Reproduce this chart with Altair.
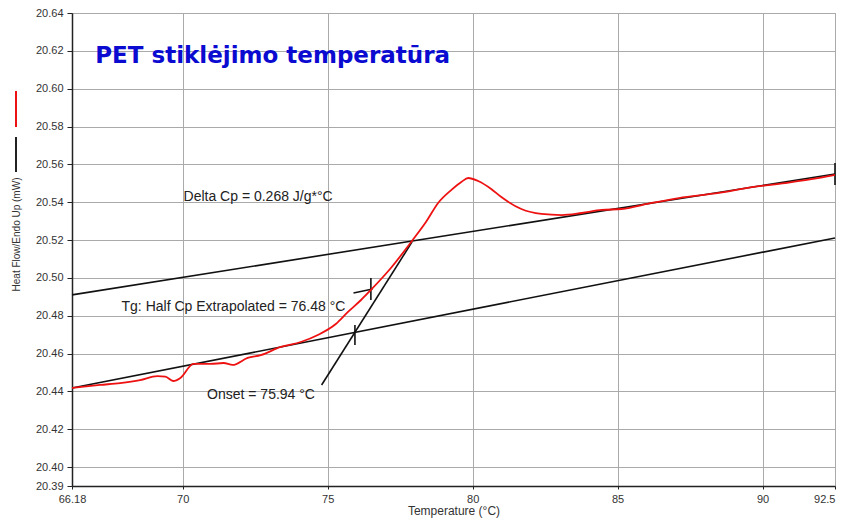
import altair as alt
import pandas as pd

# ---- data ----
temp = [66.18, 67.15, 67.84, 68.53, 69.12, 69.40, 69.67, 69.92, 70.37, 70.96,
        71.41, 71.72, 72.24, 72.69, 73.38, 74.07, 74.66, 75.28, 75.70, 76.15,
        76.49, 77.18, 77.88, 78.39, 78.81, 79.26, 79.61, 79.85, 80.19, 80.64,
        80.99, 81.68, 82.37, 83.07, 83.76, 84.45, 85.14, 86.18, 87.11, 88.50,
        89.64, 90.78, 91.96, 92.50]
heat_flow = [20.4418, 20.4434, 20.4444, 20.4460, 20.4481, 20.4478, 20.4455, 20.4471, 20.4545, 20.4545,
             20.4550, 20.4540, 20.4577, 20.4592, 20.4635, 20.4661, 20.4698, 20.4756, 20.4820, 20.4883,
             20.4936, 20.5052, 20.5190, 20.5295, 20.5396, 20.5464, 20.5507, 20.5528, 20.5512, 20.5470,
             20.5427, 20.5364, 20.5338, 20.5332, 20.5343, 20.5359, 20.5364, 20.5396, 20.5422, 20.5449,
             20.5480, 20.5501, 20.5528, 20.5544]

# construction lines: x1, y1, x2, y2
seg_x1 = [66.18, 66.18, 74.79, 75.89, 75.94, 76.49, 92.50]
seg_y1 = [20.4910, 20.4418, 20.4434, 20.4920, 20.4645, 20.4883, 20.5491]
seg_x2 = [92.50, 92.50, 77.91, 76.55, 75.94, 76.49, 92.50]
seg_y2 = [20.5549, 20.5211, 20.5190, 20.4941, 20.4751, 20.4999, 20.5607]

ann_text = ["Delta Cp = 0.268 J/g*°C", "Tg: Half Cp Extrapolated = 76.48 °C", "Onset = 75.94 °C"]
ann_x = [72.60, 71.75, 72.70]
ann_y = [20.5427, 20.4846, 20.4381]

title_text = ["PET stiklėjimo temperatūra"]
title_x = [66.98]
title_y = [20.6136]

x_ticks = [66.18, 70, 75, 80, 85, 90, 92.5]
y_ticks = [20.39, 20.40, 20.42, 20.44, 20.46, 20.48, 20.50, 20.52, 20.54,
           20.56, 20.58, 20.60, 20.62, 20.64]

curve = pd.DataFrame({"T": temp, "HF": heat_flow})
segs = pd.DataFrame({"x1": seg_x1, "y1": seg_y1, "x2": seg_x2, "y2": seg_y2})
ann = pd.DataFrame({"t": ann_text, "x": ann_x, "y": ann_y})
ttl = pd.DataFrame({"t": title_text, "x": title_x, "y": title_y})

FONT = "Liberation Sans"
xs = alt.Scale(domain=[66.18, 92.5], nice=False, zero=False)
ys = alt.Scale(domain=[20.39, 20.64], nice=False, zero=False)

x_axis = alt.Axis(values=x_ticks, labelExpr="format(datum.value, '~g')", grid=True,
                  tickCount=20,
                  gridColor="#aaaaaa", gridWidth=1, domainColor="#222222", domainWidth=1.5,
                  tickColor="#222222", tickSize=3, labelFont=FONT, labelFontSize=11,
                  labelColor="#333333", labelPadding=4, labelFlush=False, labelOverlap=False,
                  labelAlign={"condition": {"test": "datum.value > 92", "value": "right"},
                              "value": "center"},
                  title="Temperature (°C)", titleFont=FONT, titleFontSize=12,
                  titleFontWeight="normal", titleColor="#333333", titlePadding=1)
y_axis = alt.Axis(values=y_ticks, format=".2f", grid=True, gridColor="#aaaaaa", gridWidth=1,
                  tickCount=30,
                  domainColor="#222222", domainWidth=1.5, tickColor="#222222", tickSize=5,
                  labelFont=FONT, labelFontSize=11, labelColor="#333333", labelPadding=4,
                  labelFlush=False, labelOverlap=False,
                  title="Heat Flow/Endo Up (mW)", titleFont=FONT, titleFontSize=10,
                  titleFontWeight="normal", titleColor="#333333",
                  titleX=-56, titleY=221, titleAlign="center", titleBaseline="middle",
                  titleAngle=270)

lines = alt.Chart(segs).mark_rule(color="#111111", strokeWidth=1.6).encode(
    x=alt.X("x1:Q", scale=xs, axis=x_axis),
    y=alt.Y("y1:Q", scale=ys, axis=y_axis),
    x2="x2:Q", y2="y2:Q")

red = alt.Chart(curve).mark_line(color="#ee1111", strokeWidth=1.8, interpolate="monotone").encode(
    x=alt.X("T:Q", scale=xs), y=alt.Y("HF:Q", scale=ys))

texts = alt.Chart(ann).mark_text(font=FONT, fontSize=14, color="#222222",
                                 align="center", baseline="middle").encode(
    x=alt.X("x:Q", scale=xs), y=alt.Y("y:Q", scale=ys), text="t:N")

title = alt.Chart(ttl).mark_text(font="DejaVu Sans", fontSize=23, fontWeight="bold",
                                 color="#0a0ad0", align="left", baseline="alphabetic").encode(
    x=alt.X("x:Q", scale=xs), y=alt.Y("y:Q", scale=ys), text="t:N")

leg_red = alt.Chart(curve).mark_rule(color="#ee1111", strokeWidth=2).encode(
    x=alt.value(-56), y=alt.value(78), y2=alt.value(114))
leg_blk = alt.Chart(curve).mark_rule(color="#222222", strokeWidth=1).encode(
    x=alt.value(-56), y=alt.value(124), y2=alt.value(159))

chart = alt.layer(lines, red, texts, title, leg_red, leg_blk).properties(
    width=763, height=473, autosize="none",
    padding={"left": 64, "top": 5, "right": 2, "bottom": 32},
    background="white",
).configure_view(stroke="#aaaaaa", strokeWidth=1)

chart.save("out.html", embed_options={"renderer": "svg", "actions": False})
